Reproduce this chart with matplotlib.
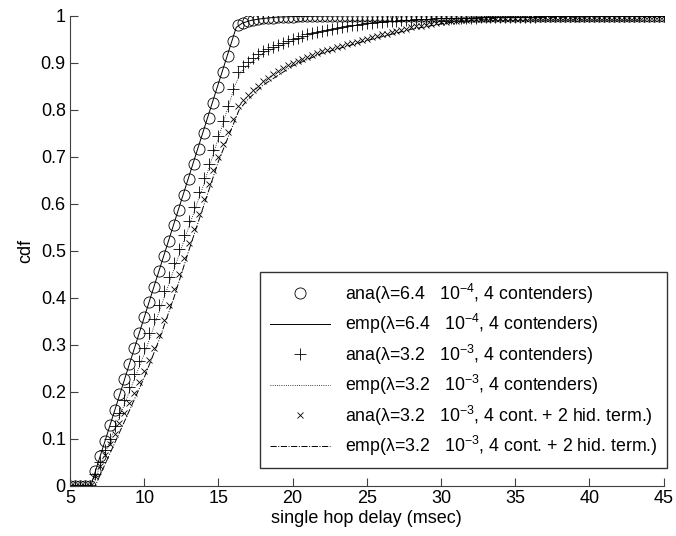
import numpy as np
import matplotlib
matplotlib.use('Agg')
import matplotlib.pyplot as plt

plt.rcParams['font.family'] = ['Liberation Sans', 'DejaVu Sans']
plt.rcParams['mathtext.fontset'] = 'custom'
plt.rcParams['mathtext.rm'] = 'Liberation Sans'
plt.rcParams['mathtext.it'] = 'Liberation Sans:italic'

# sampling grid of the analytical curves (msec)
delay = np.linspace(5, 45, 121)

ana_64e4 = [0, 0, 0, 0, 0,
            .031, .064, .096, .129, .162, .195, .227, .260, .293, .325,
            .358, .391, .423, .456, .489, .521, .554, .587, .619, .652,
            .685, .717, .750, .783, .815, .848, .881, .914, .946, .980,
            .984, .988, .991, .993, .994, .995, .996, .997, .997, .998,
            .998, .999, .999, .999, .999, .999, .999, .999, 1, 1,
            1, 1, 1, 1, 1, 1, 1, 1, 1, 1,
            1, 1, 1, 1, 1, 1, 1, 1, 1, 1,
            1, 1, 1, 1, 1, 1, 1, 1, 1, 1,
            1, 1, 1, 1, 1, 1, 1, 1, 1, 1,
            1, 1, 1, 1, 1, 1, 1, 1, 1, 1,
            1, 1, 1, 1, 1, 1, 1, 1, 1, 1,
            1, 1, 1, 1, 1, 1]

ana_32e3 = [0, 0, 0, 0, 0,
            .025, .050, .075, .100, .127, .155, .182, .210, .238, .266,
            .294, .324, .354, .384, .414, .444, .474, .504, .534, .564,
            .594, .624, .654, .684, .714, .744, .776, .808, .845, .880,
            .892, .901, .910, .918, .924, .929, .934, .938, .942, .946,
            .950, .953, .957, .960, .963, .966, .968, .970, .972, .974,
            .976, .978, .980, .981, .983, .984, .985, .986, .987, .988,
            .989, .989, .990, .991, .991, .992, .992, .993, .993, .994,
            .994, .995, .995, .995, .996, .996, .996, .996, .997, .997,
            .997, .997, .997, .998, .998, .998, .998, .998, .998, .998,
            .999, .999, .999, .999, .999, .999, .999, .999, .999, .999,
            .999, .999, .999, .999, .999, 1, 1, 1, 1, 1,
            1, 1, 1, 1, 1, 1]

ana_32e3_hid = [0, 0, 0, 0, 0,
                .020, .043, .066, .089, .111, .133, .155, .177, .198, .221,
                .244, .267, .292, .321, .353, .385, .418, .450, .484, .516,
                .546, .578, .609, .641, .672, .700, .727, .753, .780, .808,
                .820, .831, .841, .851, .860, .868, .875, .882, .888, .894,
                .899, .904, .908, .912, .916, .920, .924, .927, .930, .933,
                .936, .939, .942, .945, .948, .951, .954, .957, .960, .962,
                .965, .968, .970, .972, .975, .977, .979, .981, .983, .984,
                .986, .987, .988, .989, .990, .991, .992, .993, .993, .994,
                .994, .995, .995, .995, .996, .996, .996, .996, .997, .997,
                .997, .997, .997, .997, .998, .998, .998, .998, .998, .998,
                .998, .998, .998, .998, .998, .998, .998, .998, .998, .998,
                .998, .999, .999, .999, .999, .999]

# empirical curves (break points)
emp1_x = [5, 6.4, 16.2, 16.6, 17.2, 18, 19, 20, 22, 25, 45]
emp1_y = [0, 0, .975, .984, .990, .994, .997, .998, .999, 1, 1]
emp2_x = [5, 6.5, 8, 10, 12, 14, 16.1, 16.5, 17, 18, 20, 22, 25, 30, 35, 45]
emp2_y = [0, 0, .12, .28, .46, .64, .85, .88, .895, .92, .947, .967, .984, .994, .998, 1]
emp3_x = [5, 6.7, 8, 9, 10, 11, 12, 13, 14, 15, 16.4, 17, 18, 20, 22, 25, 28, 31, 34, 40, 45]
emp3_y = [0, 0, .09, .16, .23, .31, .40, .50, .595, .69, .80, .822, .852, .893, .920, .947, .971, .988, .995, .997, .998]

labels = ['ana(λ=6.4   10$^{-4}$, 4 contenders)',
          'emp(λ=6.4   10$^{-4}$, 4 contenders)',
          'ana(λ=3.2   10$^{-3}$, 4 contenders)',
          'emp(λ=3.2   10$^{-3}$, 4 contenders)',
          'ana(λ=3.2   10$^{-3}$, 4 cont. + 2 hid. term.)',
          'emp(λ=3.2   10$^{-3}$, 4 cont. + 2 hid. term.)']

fig = plt.figure(figsize=(6.76, 5.36), dpi=100)
ax = fig.add_axes([0.1036, 0.0938, 0.878, 0.877])

ax.plot(delay, ana_64e4, 'o', color='k', mfc='none', ms=8, mew=0.6, label=labels[0])
ax.plot(emp1_x, emp1_y, '-', color='k', lw=0.7, label=labels[1])
ax.plot(delay, ana_32e3, '+', color='k', ms=8.5, mew=0.6, label=labels[2])
ax.plot(emp2_x, emp2_y, ':', color='k', lw=0.6, label=labels[3])
ax.plot(delay, ana_32e3_hid, 'x', color='k', ms=4.5, mew=0.6, label=labels[4])
ax.plot(emp3_x, emp3_y, '-.', color='k', lw=0.7, label=labels[5])

ax.set_xlim(5, 45)
ax.set_ylim(0, 1)
ax.set_xticks(range(5, 46, 5))
ax.set_yticks(np.arange(0, 1.01, 0.1))
ax.set_yticklabels(['0', '0.1', '0.2', '0.3', '0.4', '0.5', '0.6', '0.7', '0.8', '0.9', '1'])
for s in ['top', 'right']:
    ax.spines[s].set_visible(False)
for s in ['left', 'bottom']:
    ax.spines[s].set_color('#404040')
    ax.spines[s].set_linewidth(0.8)
ax.tick_params(direction='in', length=6, width=0.8, color='#404040', labelsize=13, pad=3)
ax.set_xlabel('single hop delay (msec)', fontsize=13, labelpad=2)
ax.set_ylabel('cdf', fontsize=13, labelpad=5)

leg = ax.legend(loc='upper right', bbox_to_anchor=(1.006, 0.455), fontsize=12.8,
                frameon=True, fancybox=False, edgecolor='k', handlelength=3.4,
                handletextpad=0.8, labelspacing=0.36, borderpad=0.55, borderaxespad=0)
leg.get_frame().set_linewidth(1.0)

fig.savefig('out.png', dpi=100)
